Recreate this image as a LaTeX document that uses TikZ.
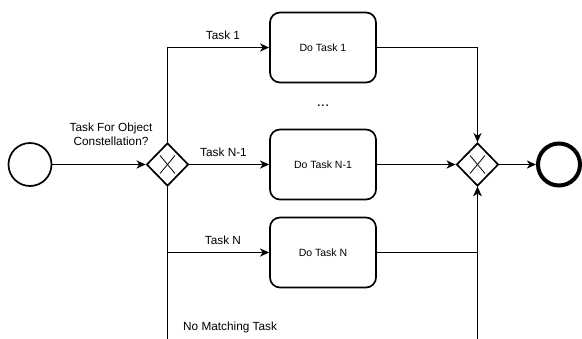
\documentclass[tikz,border=0pt]{standalone}
\usepackage{fontspec}
\setmainfont{Liberation Sans}
\usetikzlibrary{shapes.geometric,arrows.meta}

\tikzset{
  flow/.style={line width=1.7pt, -{Stealth[length=9pt,width=8pt,inset=2.5pt]}},
  taskbox/.style={draw, line width=1.7pt, rounded corners=10pt,
    minimum width=106pt, minimum height=70pt, inner sep=0pt, font=\fontsize{10.5}{12}\selectfont},
  startevent/.style={draw, circle, line width=1.7pt, minimum size=43pt, inner sep=0pt},
  endevent/.style={draw, circle, line width=4pt, minimum size=42pt, inner sep=0pt},
  xorgate/.style={draw, diamond, aspect=1, line width=1.7pt, minimum width=42pt,
    minimum height=43pt, inner sep=0pt,
    path picture={
      \draw[line width=0.8pt]
        ([shift={(-7.5,-9)}]path picture bounding box.center) --
        ([shift={(7.5,9)}]path picture bounding box.center)
        ([shift={(-7.5,9)}]path picture bounding box.center) --
        ([shift={(7.5,-9)}]path picture bounding box.center);
    }},
  lbl/.style={font=\fontsize{11.8}{14}\selectfont, inner sep=0pt}
}

\begin{document}
\begin{tikzpicture}[x=1pt,y=-1pt]
  \useasboundingbox (0,0) rectangle (582,338);
  \clip (0,0) rectangle (582,338);

  % events and gateways
  \node[startevent] (start) at (30,164.5) {};
  \node[xorgate] (split) at (167.5,164.5) {};
  \node[xorgate] (join) at (477.5,164.5) {};
  \node[endevent] (end) at (559,164.5) {};

  % tasks
  \node[taskbox] (t1) at (323,47.5) {Do Task 1};
  \node[taskbox] (tn1) at (323,164.5) {Do Task N-1};
  \node[taskbox] (tn) at (323,252.5) {Do Task N};
  \node[font=\fontsize{15}{17}\selectfont, inner sep=0pt] (dots) at (323,106) {...};

  % route below the tasks for the unmatched case
  \coordinate (lowleft) at (167.5,350);
  \coordinate (lowright) at (477.5,350);

  % connectors
  \draw[flow] (start) -- (split);
  \draw[flow] (split.north) |- (t1.west);
  \draw[flow] (split.east) -- (tn1.west);
  \draw[flow] (split.south) |- (tn.west);
  \draw[flow] (split.south) -- (lowleft) -- (lowright) -- (join.south);
  \draw[flow] (t1.east) -| (join.north);
  \draw[flow] (tn1.east) -- (join.west);
  \draw[flow] (tn.east) -| (join.south);
  \draw[flow] (join.east) -- (end);

  % labels
  \node[lbl, align=center] (qlabel) at (111,134) {Task For Object\\Constellation?};
  \node[lbl] (l1) at (223,35) {Task 1};
  \node[lbl] (ln1) at (223.5,152.5) {Task N-1};
  \node[lbl] (ln) at (223,240) {Task N};
  \node[lbl, anchor=west] (lnone) at (183,327) {No Matching Task};
\end{tikzpicture}
\end{document}
